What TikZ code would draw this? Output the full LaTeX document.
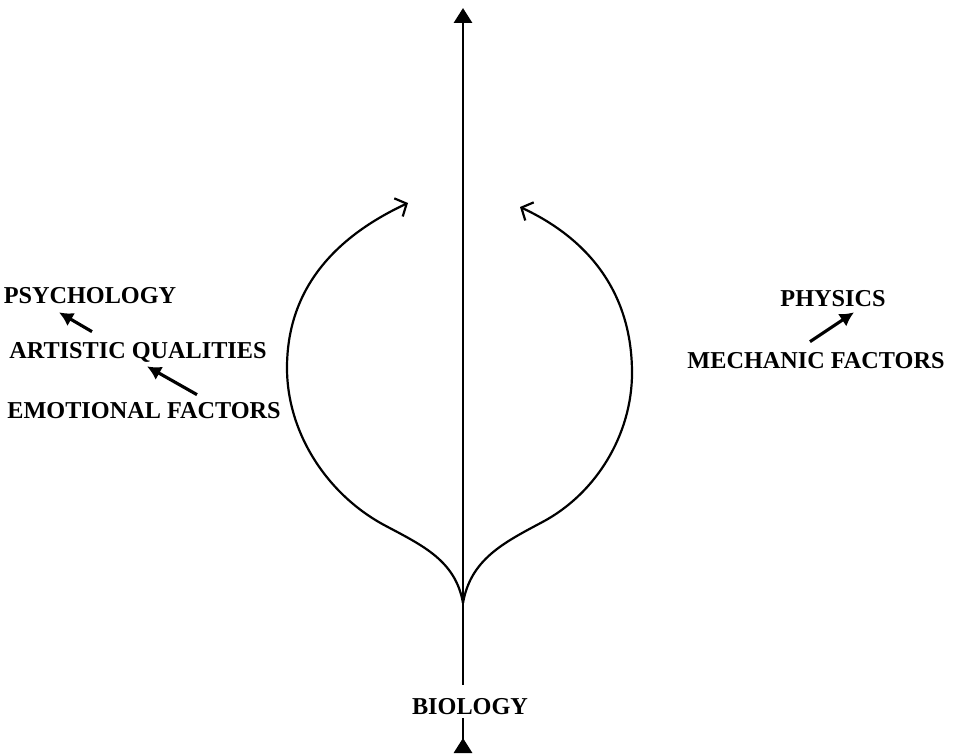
\documentclass[tikz,border=0pt]{standalone}
\usepackage{fontspec}
\setmainfont{Liberation Serif}
\usetikzlibrary{arrows.meta,positioning}

\begin{document}
\begin{tikzpicture}[
    lbl/.style={font=\fontsize{13.8}{16}\selectfont\bfseries, inner sep=0pt, text height=0.34cm, text depth=0.04cm, anchor=base},
    axis/.style={line width=1.7pt},
    branch/.style={line width=1.25pt, -{Straight Barb[length=1.8mm,width=4mm]}},
    factor/.style={line width=1.8pt, -{Latex[length=2.8mm,width=3mm]}}
]
    \useasboundingbox (0,0) rectangle (19.08,15.06);

    % Main axis
    \coordinate (base) at (9.26,0);
    \coordinate (fork) at (9.26,3.0);
    \coordinate (apex) at (9.26,14.9);
    \draw[axis,{Triangle[reversed,length=3mm,width=3.6mm]}-{Triangle[length=3mm,width=3.6mm]}] (base) -- (apex);
    \node[lbl,fill=white,text height=0.58cm,text depth=0.08cm] (biology) at (9.40,0.78) {BIOLOGY};

    % Branches
    \coordinate (lefttip) at (8.16,11.0);
    \coordinate (righttip) at (10.40,10.92);
    \draw[branch] (fork) to[out=100,in=-28] (7.7,4.55) to[out=152,in=-90,looseness=0.9] (5.74,7.7) to[out=90,in=-155] (lefttip);
    \draw[branch] (fork) to[out=80,in=-152] (10.85,4.62) to[out=28,in=-90,looseness=0.9] (12.64,7.6) to[out=90,in=-25] (righttip);

    % Left side
    \node[lbl] (psychology) at (1.80,8.99) {PSYCHOLOGY};
    \node[lbl] (artistic) at (2.76,7.89) {ARTISTIC QUALITIES};
    \node[lbl] (emotional) at (2.88,6.69) {EMOTIONAL FACTORS};
    \draw[factor] ([shift={(-0.92,0.19)}]artistic.north) -- ([shift={(-0.62,-0.13)}]psychology.south);
    \draw[factor] ([shift={(1.06,0.13)}]emotional.north) -- ([shift={(0.18,-0.11)}]artistic.south);

    % Right side
    \node[lbl] (physics) at (16.66,8.93) {PHYSICS};
    \node[lbl] (mechanic) at (16.32,7.69) {MECHANIC FACTORS};
    \draw[factor] ([shift={(-0.12,0.19)}]mechanic.north) -- ([shift={(0.42,-0.07)}]physics.south);
\end{tikzpicture}
\end{document}
